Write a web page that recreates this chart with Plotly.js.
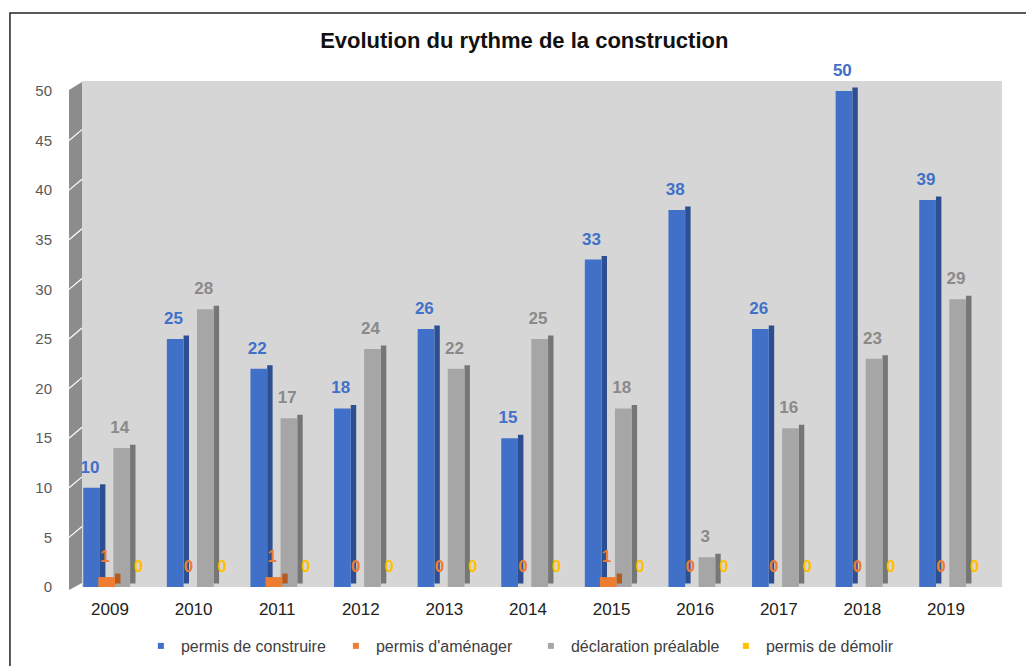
<!DOCTYPE html>
<html><head><meta charset="utf-8">
<script src="https://cdn.plot.ly/plotly-3.0.1.min.js"></script>
<style>body{margin:0;background:#fff}</style>
</head><body><div id="chart" style="width:1026px;height:666px"></div>
<script>
const years = ['2009','2010','2011','2012','2013','2014','2015','2016','2017','2018','2019'];
const permisConstruire = [10,25,22,18,26,15,33,38,26,50,39];
const permisAmenager = [1,0,1,0,0,0,1,0,0,0,0];
const declarationPrealable = [14,28,17,24,22,25,18,3,16,23,29];
const permisDemolir = [0,0,0,0,0,0,0,0,0,0,0];
const seriesNames = ['permis de construire',"permis d'aménager",'déclaration préalable','permis de démolir'];
const yTicks = [0,5,10,15,20,25,30,35,40,45,50];

const FONT = 'Liberation Sans, Arial, Helvetica, sans-serif';
const styles = [
  {vals: permisConstruire, front:'#4170c8', side:'#2d4f91', text:'#4170c8', off:-0.32, w:0.2},
  {vals: declarationPrealable, front:'#a6a6a6', side:'#767676', text:'#8a8a8a', off:0.04, w:0.2},
  {vals: permisDemolir, front:'#ffc000', side:'#c79600', text:'#ffc000', off:0.27, w:0.18},
  {vals: permisAmenager, front:'#ed7d31', side:'#b45a1e', text:'#ed7d31', off:-0.14, w:0.2}
];
const nameIdx = [0,2,3,1];
const depth = 0.065, lift = 0.35, labelLift = 0.8;
const traces = [];
styles.forEach((s,i)=>{
  traces.push({type:'bar', x:years, y:s.vals, base:lift, offset:s.off+s.w, width:depth,
    marker:{color:s.side}, showlegend:false, hoverinfo:'skip'});
  traces.push({type:'bar', x:years, y:s.vals, offset:s.off, width:s.w, name:seriesNames[nameIdx[i]],
    marker:{color:s.front}, showlegend:false});
});
// value labels (transparent carriers lifted above the 3D top face)
styles.forEach((s,i)=>{
  traces.push({type:'bar', x:years, y:s.vals, base:labelLift, offset:s.off-0.02, width:s.w,
    marker:{color:'rgba(0,0,0,0)'}, showlegend:false, hoverinfo:'skip',
    text:s.vals.map(String), textposition:'outside', constraintext:'none', cliponaxis:false,
    textfont:{family:FONT, size:17, color:s.text, weight:700}});
});
// legend proxies
const legendColors = ['#4170c8','#ed7d31','#a6a6a6','#ffc000'];
seriesNames.forEach((n,i)=>{
  traces.push({type:'scatter', mode:'markers', x:[null], y:[null], name:n,
    marker:{symbol:'square', size:6, color:legendColors[i]}, showlegend:true});
});

const shapes = [
  {type:'rect', xref:'paper', yref:'paper', x0:-0.0783, y0:-0.3, x1:1.1, y1:1.1344,
   line:{color:'#222', width:1.5}, fillcolor:'rgba(0,0,0,0)', layer:'below'},
  {type:'path', xref:'paper', yref:'paper', path:'M -0.0141,0.982 L 0,0.998 L 0,0.0079 L -0.0141,-0.0059 Z',
   fillcolor:'#8c8c8c', line:{width:0}}
];
yTicks.slice(1,-1).forEach(v=>{
  shapes.push({type:'line', xref:'paper', yref:'y', x0:-0.0141, y0:v, x1:0, y1:v+1.1,
    line:{color:'#ffffff', width:1.2}});
});

const layout = {
  width:1026, height:666,
  margin:{l:82, r:24, t:81, b:79, autoexpand:false},
  paper_bgcolor:'#ffffff', plot_bgcolor:'#d6d6d6',
  barmode:'overlay',
  font:{family:FONT},
  title:{text:'Evolution du rythme de la construction', font:{family:FONT, size:22, color:'#111', weight:700},
    xref:'container', yref:'container', x:0.511, y:0.94, xanchor:'center', yanchor:'middle'},
  xaxis:{type:'category', range:[-0.335,10.67], showgrid:false, zeroline:false, showline:false,
    ticks:'outside', ticklen:7, tickcolor:'rgba(0,0,0,0)', tickfont:{family:FONT, size:17, color:'#222'}},
  yaxis:{range:[0,51], tickvals:yTicks, showgrid:false, zeroline:false, showline:false,
    ticks:'outside', ticklen:26, tickcolor:'rgba(0,0,0,0)', tickfont:{family:FONT, size:15, color:'#595959'}},
  showlegend:true,
  legend:{orientation:'h', x:0.064, xanchor:'left', y:-0.083, yanchor:'top',
    font:{family:FONT, size:16, color:'#404040'}, bgcolor:'rgba(0,0,0,0)', entrywidth:150},
  shapes:shapes
};
Plotly.newPlot('chart', traces, layout, {displayModeBar:false, staticPlot:true});
</script>
</body></html>
